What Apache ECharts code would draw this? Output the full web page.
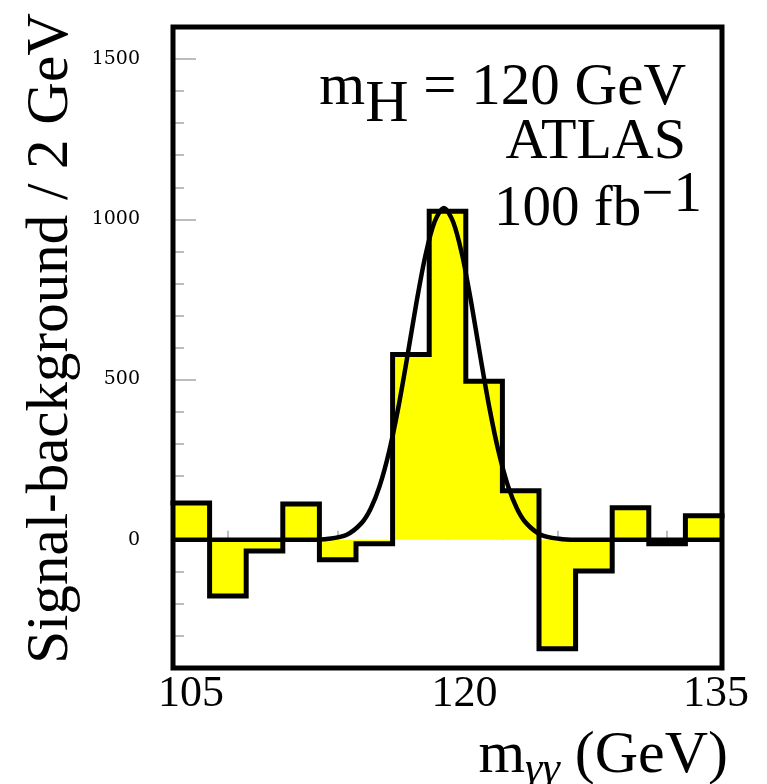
<!DOCTYPE html>
<html>
<head>
<meta charset="utf-8">
<title>Signal-background / 2 GeV</title>
<script src="https://cdn.jsdelivr.net/npm/echarts@6/dist/echarts.min.js"></script>
<style>
html, body { margin: 0; padding: 0; background: #fff; }
#chart { width: 767px; height: 784px; }
</style>
</head>
<body>
<div id="chart"></div>
<script>
// left edge of each 2 GeV bin, and signal-background entries
var binLeft = [105, 107, 109, 111, 113, 115, 117, 119, 121, 123, 125, 127, 129, 131, 133];
var binValues = [115, -175, -35, 112, -62, -12, 578, 1025, 495, 153, -340, -97, 100, -12, 75];
var binEnd = 135;

// fitted curve
var fitX = [105, 108, 111, 112.5, 113.5, 114.5, 115.3, 115.8, 116.3, 116.8, 117.3, 117.8, 118.3, 118.8, 119.3, 119.8,
            120.3, 120.8, 121.3, 121.8, 122.3, 122.8, 123.3, 123.8, 124.3, 125.1, 126.1, 127, 131, 135];
var fitY = [0, 0, 0, 0, 3, 16, 52, 97, 169, 273, 409, 570, 739, 889, 993, 1035,
            993, 889, 739, 570, 409, 273, 169, 97, 52, 16, 3, 0, 0, 0];

var xLabels = [105, 120, 135];
var yLabels = [0, 500, 1000, 1500];

var serif = 'Liberation Serif';

var histData = binLeft.map(function (x, i) { return [x, binValues[i]]; });
histData.push([binEnd, binValues[binValues.length - 1]]);
var fitData = fitX.map(function (x, i) { return [x, fitY[i]]; });

var myChart = echarts.init(document.getElementById('chart'));

var tickGray = '#a8a8a8';

// plain serif text piece for rich labels
function txt(size, extra) {
    var s = { fontFamily: serif, fontSize: size, fontWeight: 'normal', color: '#000' };
    for (var k in extra) s[k] = extra[k];
    return s;
}

var option = {
    animation: false,
    backgroundColor: '#fff',
    textStyle: { fontFamily: serif, color: '#000' },
    title: [
        {
            // x axis title
            text: '{m|m}{s|γγ}{t| (GeV)}',
            right: 34, top: 721,
            textStyle: {
                fontWeight: 'normal',
                rich: {
                    m: txt(60, { verticalAlign: 'top', lineHeight: 58 }),
                    s: txt(44, { fontStyle: 'italic', lineHeight: 88 }),
                    t: txt(60, { verticalAlign: 'top', lineHeight: 58 })
                }
            }
        },
        {
            text: '{m|m}{s|H}{t| = 120 GeV}',
            right: 76, top: 54,
            textStyle: {
                fontWeight: 'normal',
                rich: {
                    m: txt(59, { verticalAlign: 'top', lineHeight: 58 }),
                    s: txt(60, { lineHeight: 92 }),
                    t: txt(59, { verticalAlign: 'top', lineHeight: 58 })
                }
            }
        },
        {
            text: 'ATLAS',
            right: 76, top: 109,
            textStyle: txt(58, {})
        },
        {
            text: '{t|100 fb}{u|−1}',
            right: 60, top: 148,
            textStyle: {
                fontWeight: 'normal',
                rich: {
                    t: txt(57, { verticalAlign: 'bottom', lineHeight: 56 }),
                    u: txt(57, { lineHeight: 86 })
                }
            }
        }
    ],
    grid: [
        { left: 173, right: 45, top: 27, bottom: 116, show: false },
        // second grid: long ticks and the frame on top
        { left: 173, right: 45, top: 27, bottom: 116, show: true, z: 10,
          borderColor: '#000', borderWidth: 5, backgroundColor: 'transparent' }
    ],
    xAxis: [
        {
            gridIndex: 0,
            type: 'value',
            min: 105, max: 135, interval: 3,
            axisLine: { show: false },
            axisTick: { show: true, inside: true, length: 9, lineStyle: { color: tickGray, width: 1.5 } },
            splitLine: { show: false },
            axisLabel: {
                margin: 4,
                formatter: function (v) {
                    var i = xLabels.indexOf(v);
                    return i < 0 ? '' : '{a' + i + '|' + v + '}';
                },
                rich: {
                    a0: txt(44, { padding: [0, 0, 0, 36] }),
                    a1: txt(44, { padding: [0, 0, 0, 34] }),
                    a2: txt(44, { padding: [0, 12, 0, 0] })
                }
            }
        },
        {
            gridIndex: 1,
            type: 'value',
            min: 105, max: 135, interval: 12,
            axisLine: { show: false },
            axisTick: { show: true, inside: true, length: 21, lineStyle: { color: tickGray, width: 1.5 } },
            axisLabel: { show: false },
            splitLine: { show: false }
        }
    ],
    yAxis: [
        {
            gridIndex: 0,
            type: 'value',
            min: -400, max: 1600, interval: 100,
            name: 'Signal-background / 2 GeV',
            nameLocation: 'middle',
            nameRotate: 90,
            nameGap: 92,
            nameTextStyle: { fontFamily: serif, fontSize: 59, color: '#000', padding: [0, 0, 0, 18] },
            axisLine: { show: false },
            axisTick: { show: true, inside: true, length: 11, lineStyle: { color: tickGray, width: 1.5 } },
            splitLine: { show: false },
            axisLabel: {
                margin: 33,
                fontFamily: 'DejaVu Serif',
                fontSize: 19,
                color: '#000',
                formatter: function (v) {
                    return yLabels.indexOf(v) < 0 ? '' : String(v);
                }
            }
        },
        {
            gridIndex: 1,
            type: 'value',
            min: -400, max: 1600,
            axisLine: { show: false },
            axisTick: { show: true, inside: true, length: 23, customValues: yLabels,
                        lineStyle: { color: tickGray, width: 1.5 } },
            axisLabel: { show: false },
            splitLine: { show: false }
        }
    ],
    series: [
        {
            name: 'histogram',
            type: 'line',
            xAxisIndex: 0, yAxisIndex: 0,
            step: 'end',
            symbol: 'none',
            data: histData,
            lineStyle: { color: '#000', width: 5, join: 'miter', cap: 'square' },
            areaStyle: { color: '#ffff00', opacity: 1, origin: 0 },
            z: 2
        },
        {
            name: 'fit',
            type: 'line',
            xAxisIndex: 0, yAxisIndex: 0,
            smooth: 0.3,
            symbol: 'none',
            data: fitData,
            lineStyle: { color: '#000', width: 4.5 },
            z: 3
        }
    ]
};
myChart.setOption(option);
</script>
</body>
</html>
